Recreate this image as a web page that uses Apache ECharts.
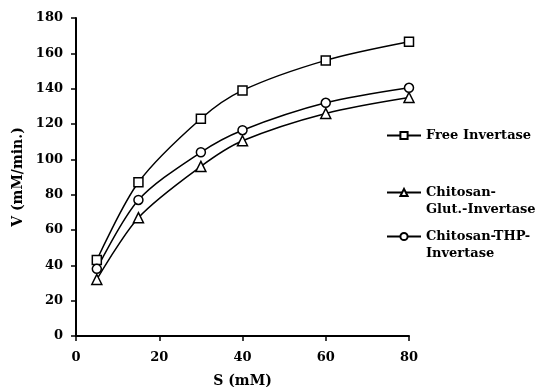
<!DOCTYPE html>
<html><head><meta charset="utf-8">
<script src="https://cdn.jsdelivr.net/npm/echarts@6/dist/echarts.min.js"></script>
<style>html,body{margin:0;padding:0;background:#fff}#c{width:541px;height:387px}</style>
</head><body><div id="c"></div>
<script>
const sValues = [5, 15, 30, 40, 60, 80];
const freeInvertase = [43, 87, 123, 139, 156, 166.5];
const glutInvertase = [32, 67, 96, 110.5, 126, 135];
const thpInvertase = [38, 77, 104, 116.5, 132, 140.5];
const seriesNames = ['Free Invertase', 'Chitosan-\nGlut.-Invertase', 'Chitosan-THP-\nInvertase'];
const symbols = ['rect', 'triangle', 'circle'];
const allData = [freeInvertase, glutInvertase, thpInvertase];

const font = '"DejaVu Serif", "Liberation Serif", serif';
const legendTops = [122, 162, 206];
const chart = echarts.init(document.getElementById('c'));
chart.setOption({
  animation: false,
  grid: {left: 76, top: 18, right: 132, bottom: 51, containLabel: false, outerBoundsMode: 'none'},
  xAxis: {
    type: 'value', min: 0, max: 80, interval: 20,
    name: 'S (mM)', nameLocation: 'middle', nameGap: 38,
    nameTextStyle: {fontFamily: font, fontWeight: 'bold', fontSize: 14, color: '#000'},
    axisLine: {lineStyle: {color: '#000', width: 2}},
    axisTick: {lineStyle: {color: '#000', width: 1.5}, length: 5},
    axisLabel: {fontFamily: font, fontWeight: 'bold', fontSize: 13, color: '#000', margin: 15},
    splitLine: {show: false}
  },
  yAxis: {
    type: 'value', min: 0, max: 180, interval: 20,
    name: 'V (mM/min.)', nameLocation: 'middle', nameGap: 47,
    nameTextStyle: {fontFamily: font, fontWeight: 'bold', fontSize: 14, color: '#000'},
    axisLine: {show: true, lineStyle: {color: '#000', width: 2}},
    axisTick: {show: true, lineStyle: {color: '#000', width: 1.5}, length: 5},
    axisLabel: {fontFamily: font, fontWeight: 'bold', fontSize: 13, color: '#000', margin: 13},
    splitLine: {show: false}
  },
  legend: seriesNames.map((n, i) => ({
    orient: 'vertical', left: 381, top: legendTops[i],
    itemWidth: 34, itemHeight: 9, itemGap: 3,
    formatter: name => (i === 0 ? name : '\n' + name),
    textStyle: {fontFamily: font, fontWeight: 'bold', fontSize: 13, color: '#000', lineHeight: 17},
    data: [n]
  })),
  series: allData.map((d, i) => ({
    name: seriesNames[i], type: 'line', smooth: 0.3,
    data: sValues.map((s, j) => [s, d[j]]),
    symbol: symbols[i], symbolSize: i === 1 ? 10 : 9,
    itemStyle: {color: '#fff', borderColor: '#000', borderWidth: 1.5},
    lineStyle: {color: '#000', width: 1.5}
  }))
});
</script></body></html>
